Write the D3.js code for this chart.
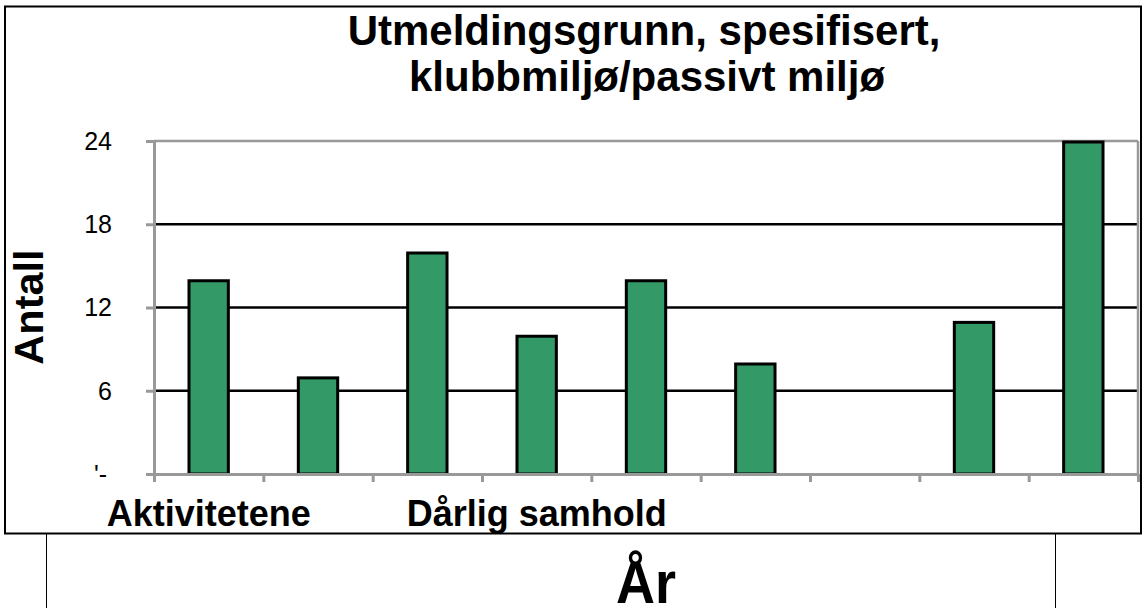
<!DOCTYPE html>
<html><head><meta charset="utf-8">
<script src="https://cdn.jsdelivr.net/npm/d3@7"></script>
<style>
html,body{margin:0;padding:0;background:#fff;}
svg{display:block;font-family:"Liberation Sans",Arial,sans-serif;}
</style></head>
<body>
<svg id="c" width="1144" height="608"></svg>
<script>
const categoryLabels = ["Aktivitetene","","","Dårlig samhold","","","","",""];
const values = [14, 7, 16, 10, 14, 8, null, 11, 24];
const yTickValues = [0, 6, 12, 18, 24];
const yTickLabels = ["'-", "6", "12", "18", "24"];
const titleLines = ["Utmeldingsgrunn, spesifisert,", "klubbmiljø/passivt miljø"];
const yTitle = "Antall";
const xTitle = "År";

const svg = d3.select("#c");
const L = 154, R = 1138, T = 141, B = 474;
const idx = d3.range(categoryLabels.length);
const x = d3.scaleBand().domain(idx).range([L, R]).padding(0);
const xb = d3.scaleLinear().domain([0, categoryLabels.length]).range([L, R]);
const y = d3.scaleLinear().domain([0, 24]).range([B, T]);
const grey = "#999";

// outer chart frame
svg.append("rect").attr("x",5).attr("y",6.5).attr("width",1136).attr("height",527)
  .attr("fill","none").attr("stroke","#000").attr("stroke-width",2);
// lines below
svg.append("line").attr("x1",46.5).attr("x2",46.5).attr("y1",534).attr("y2",608).attr("stroke","#000").attr("stroke-width",1);
svg.append("line").attr("x1",1055.5).attr("x2",1055.5).attr("y1",534).attr("y2",608).attr("stroke","#000").attr("stroke-width",1);

// gridlines
svg.append("g").selectAll("line").data(yTickValues.filter(v => v > 0 && v < 24)).join("line")
  .attr("x1", L).attr("x2", R).attr("y1", d => y(d)).attr("y2", d => y(d))
  .attr("stroke", "#000").attr("stroke-width", 2.5);
// plot frame top/right
svg.append("line").attr("x1",L).attr("x2",R).attr("y1",y(24)).attr("y2",y(24)).attr("stroke",grey).attr("stroke-width",2.5);
svg.append("line").attr("x1",R).attr("x2",R).attr("y1",T).attr("y2",B).attr("stroke",grey).attr("stroke-width",2.5);

// bars
const bw = x.bandwidth() * 0.36;
svg.append("g").selectAll("rect").data(values.map((v,i)=>({v,i})).filter(d => d.v != null)).join("rect")
  .attr("x", d => x(d.i) + x.bandwidth()/2 - bw/2)
  .attr("width", bw)
  .attr("y", d => y(d.v) + 1)
  .attr("height", d => y(0) - y(d.v) - 1)
  .attr("fill", "#339966").attr("stroke", "#000").attr("stroke-width", 3);

// y axis
const yAxis = svg.append("g").attr("transform", `translate(${L},0)`)
  .call(d3.axisLeft(y).tickValues(yTickValues).tickSize(8).tickPadding(34)
    .tickFormat((d,i) => yTickLabels[i]));
yAxis.select(".domain").attr("stroke", grey).attr("stroke-width", 3);
yAxis.selectAll(".tick line").attr("stroke", grey).attr("stroke-width", 3);
yAxis.selectAll(".tick text").attr("font-size", 25).attr("fill","#000")
  .attr("font-family","'Liberation Sans',Arial,sans-serif").attr("dy","0.33em")
  .attr("dx", d => d === 0 ? -5 : 0);

// x axis
const xAxis = svg.append("g").attr("transform", `translate(0,${B})`)
  .call(d3.axisBottom(xb).tickValues(d3.range(categoryLabels.length + 1)).tickSize(8).tickSizeOuter(0).tickFormat(""));
xAxis.select(".domain").attr("stroke", grey).attr("stroke-width", 3);
xAxis.selectAll(".tick line").attr("stroke", grey).attr("stroke-width", 3);

// category labels
svg.append("g").selectAll("text").data(idx.filter(i => categoryLabels[i])).join("text")
  .attr("transform", i => `translate(${x(i) + x.bandwidth()/2},526)`)
  .attr("text-anchor","middle").attr("font-weight","bold").attr("font-size",36)
  .text(i => categoryLabels[i]);

// title
svg.append("g").selectAll("text").data(titleLines).join("text")
  .attr("transform", (d,i) => `translate(${i ? 647 : 644},${i ? 91 : 45})`)
  .attr("text-anchor","middle").attr("font-weight","bold").attr("font-size",42)
  .text(d => d);

// y title
svg.append("text").attr("transform","translate(43,307) rotate(-90)")
  .attr("text-anchor","middle").attr("font-weight","bold").attr("font-size",41.5).text(yTitle);

// x title
svg.append("text").attr("transform","translate(646,603) scale(0.9,1)")
  .attr("text-anchor","middle").attr("font-weight","bold").attr("font-size",60).text(xTitle);
</script>
</body></html>
